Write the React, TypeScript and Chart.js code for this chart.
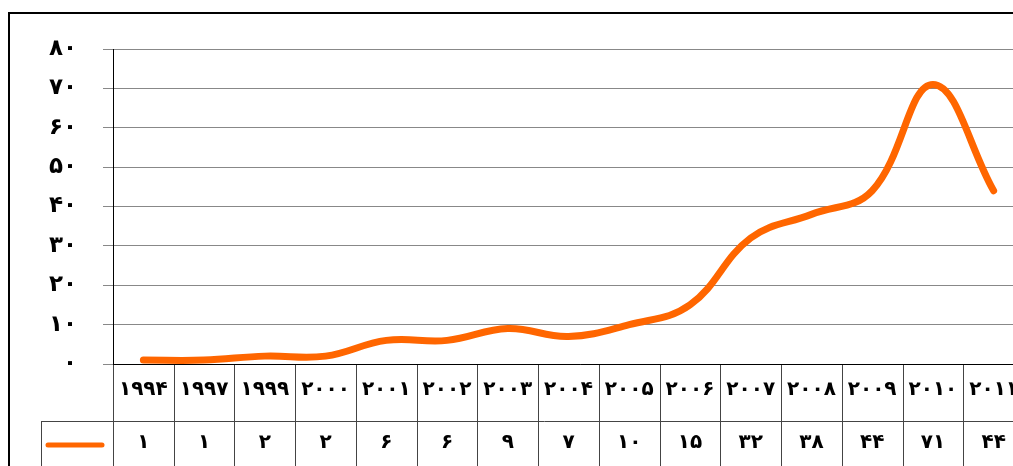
import React, { useEffect, useRef } from 'react';
import { Chart, registerables } from 'chart.js';

Chart.register(...registerables);

const categories = ['1994', '1997', '1999', '2000', '2001', '2002', '2003', '2004', '2005', '2006', '2007', '2008', '2009', '2010', '2011'];
const values = [1, 1, 2, 2, 6, 6, 9, 7, 10, 15, 32, 38, 44, 71, 44];
const yMin = 0;
const yMax = 80;
const yStep = 10;

const FA = '۰۱۲۳۴۵۶۷۸۹';
const toFa = (s: string | number) => String(s).replace(/\d/g, (d) => FA[+d]);

const ORANGE = '#FF6600';
const FONT = '"DejaVu Sans", sans-serif';

const tablePlugin = {
  id: 'dataTable',
  afterDraw(chart: any) {
    const ctx = chart.ctx as CanvasRenderingContext2D;
    const area = chart.chartArea;
    const xs = chart.scales.x;
    const n = categories.length;
    const first = xs.getPixelForValue(0);
    const second = xs.getPixelForValue(1);
    const step = second - first;
    const headerTop = area.bottom;
    const headerBottom = area.bottom + 57;
    const tableBottom = chart.height + 10;
    const keyLeft = 33;

    ctx.save();
    // outer border
    ctx.strokeStyle = '#000';
    ctx.lineWidth = 2;
    ctx.strokeRect(1, 5, chart.width + 50, chart.height + 50);

    // vertical separators
    ctx.lineWidth = 1;
    ctx.strokeStyle = '#444';
    for (let i = 0; i <= n; i++) {
      const x = Math.round(first - step / 2 + i * step) + 0.5;
      ctx.beginPath();
      ctx.moveTo(x, headerTop);
      ctx.lineTo(x, tableBottom);
      ctx.stroke();
    }
    // key column left border
    ctx.beginPath();
    ctx.moveTo(keyLeft + 0.5, headerBottom);
    ctx.lineTo(keyLeft + 0.5, tableBottom);
    ctx.stroke();
    // row separator
    ctx.beginPath();
    ctx.moveTo(keyLeft, headerBottom + 0.5);
    ctx.lineTo(chart.width, headerBottom + 0.5);
    ctx.stroke();
    // x axis line
    ctx.strokeStyle = '#000';
    ctx.beginPath();
    ctx.moveTo(area.left, Math.round(area.bottom) + 0.5);
    ctx.lineTo(chart.width, Math.round(area.bottom) + 0.5);
    ctx.stroke();

    // texts
    ctx.fillStyle = '#000';
    ctx.textAlign = 'center';
    ctx.textBaseline = 'middle';
    ctx.font = `bold 20px ${FONT}`;
    for (let i = 0; i < n; i++) {
      const x = xs.getPixelForValue(i);
      ctx.fillText(toFa(categories[i]), x, (headerTop + headerBottom) / 2 - 3);
      ctx.fillText(toFa(values[i]), x, headerBottom + 22);
    }

    // legend key
    ctx.strokeStyle = ORANGE;
    ctx.lineWidth = 5;
    ctx.lineCap = 'round';
    ctx.beginPath();
    ctx.moveTo(40, headerBottom + 24);
    ctx.lineTo(94, headerBottom + 24);
    ctx.stroke();
    ctx.restore();
  },
};

export default function App() {
  const ref = useRef<HTMLCanvasElement | null>(null);

  useEffect(() => {
    if (!ref.current) return;
    const chart = new Chart(ref.current, {
      type: 'line',
      data: {
        labels: categories,
        datasets: [
          {
            data: values,
            borderColor: ORANGE,
            borderWidth: 7,
            tension: 0.4,
            pointRadius: 0,
            borderCapStyle: 'round',
            fill: false,
          },
        ],
      },
      options: {
        responsive: false,
        animation: false,
        devicePixelRatio: 1,
        layout: { padding: { left: 5, top: 41, right: 24, bottom: 124 } },
        plugins: { legend: { display: false }, tooltip: { enabled: false } },
        scales: {
          x: {
            type: 'category',
            display: false,
            offset: true,
          },
          y: {
            min: yMin,
            max: yMax,
            afterFit: (s: any) => {
              s.width = 100;
            },
            ticks: {
              stepSize: yStep,
              padding: 26,
              color: '#000',
              font: { family: FONT, size: 23, weight: 'bold' },
              callback: (v: any) => toFa(v),
            },
            grid: {
              color: '#888',
              tickLength: 10,
              lineWidth: 1,
            },
            border: { color: '#000', width: 1 },
          },
        },
      },
      plugins: [tablePlugin],
    } as any);
    return () => chart.destroy();
  }, []);

  return (
    <div style={{ position: 'fixed', left: 8, top: 8, width: 1005, height: 458, overflow: 'hidden' }}>
      <canvas ref={ref} width={1040} height={480} style={{ width: 1040, height: 480, display: 'block' }} />
    </div>
  );
}
